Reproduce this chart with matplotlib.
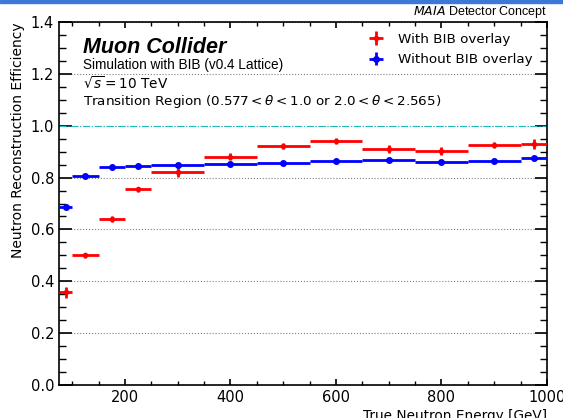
import numpy as np
import matplotlib
matplotlib.use("Agg")
import matplotlib.pyplot as plt
from matplotlib.ticker import MultipleLocator

# bin edges in true neutron energy [GeV]
bin_edges = [75, 100, 150, 200, 250, 350, 450, 550, 650, 750, 850, 950, 1000]

# efficiency with BIB overlay
eff_bib = [0.357, 0.501, 0.639, 0.755, 0.820, 0.881, 0.922, 0.941, 0.910, 0.903, 0.926, 0.930]
err_bib = [0.020, 0.010, 0.012, 0.010, 0.018, 0.015, 0.012, 0.012, 0.014, 0.015, 0.012, 0.020]

# efficiency without BIB overlay
eff_nobib = [0.688, 0.807, 0.842, 0.845, 0.849, 0.852, 0.855, 0.865, 0.868, 0.860, 0.863, 0.876]
err_nobib = [0.005, 0.004, 0.004, 0.004, 0.004, 0.004, 0.004, 0.004, 0.004, 0.004, 0.004, 0.004]

edges = np.array(bin_edges)
centers = (edges[:-1] + edges[1:]) / 2
half_w = (edges[1:] - edges[:-1]) / 2

fig = plt.figure(figsize=(5.63, 4.18), dpi=100)
# blue header strip at the very top
fig.patches.append(plt.Rectangle((0, 0.993), 1, 0.007, transform=fig.transFigure,
                                 color="#3b78d8", zorder=10))

ax = fig.add_axes([0.1048, 0.0789, 0.8668, 0.8684])

ax.errorbar(centers, eff_bib, xerr=half_w, yerr=err_bib, fmt="o", color="red",
            markersize=3, elinewidth=2, capsize=0, label="With BIB overlay", zorder=3)
ax.errorbar(centers, eff_nobib, xerr=half_w, yerr=err_nobib, fmt="o", color="blue",
            markersize=4, elinewidth=2, capsize=0, label="Without BIB overlay", zorder=3)

ax.set_xlim(75, 1000)
ax.set_ylim(0, 1.4)
ax.xaxis.set_major_locator(MultipleLocator(200))
ax.xaxis.set_minor_locator(MultipleLocator(50))
ax.yaxis.set_major_locator(MultipleLocator(0.2))
ax.yaxis.set_minor_locator(MultipleLocator(0.05))
ax.yaxis.set_major_formatter(matplotlib.ticker.FormatStrFormatter("%.1f"))

ax.tick_params(axis="both", which="both", direction="in", top=True, right=True, labelsize=10.5)
ax.tick_params(axis="y", which="major", length=9, width=1.2)
ax.tick_params(axis="y", which="minor", length=5, width=1)
ax.tick_params(axis="x", which="major", length=4, width=1.2)
ax.tick_params(axis="x", which="minor", length=3, width=1)
for s in ax.spines.values():
    s.set_linewidth(1.2)

ax.yaxis.grid(True, which="major", linestyle=":", color="grey", linewidth=0.8)
ax.axhline(1.0, color="#20b8b8", linestyle="-.", linewidth=0.8, zorder=2)

ax.set_xlabel("True Neutron Energy [GeV]", fontsize=9.8, loc="right", labelpad=3)
ax.set_ylabel("Neutron Reconstruction Efficiency", fontsize=10, loc="top")

ax.text(0.05, 0.93, "Muon Collider", transform=ax.transAxes, fontsize=15.5,
        fontweight="bold", fontstyle="italic", family="Liberation Sans", va="center")
ax.text(0.05, 0.882, "Simulation with BIB (v0.4 Lattice)", transform=ax.transAxes,
        fontsize=9.8, family="Liberation Sans", va="center")
ax.text(0.05, 0.83, r"$\sqrt{s} = 10$ TeV", transform=ax.transAxes, fontsize=9.8, va="center")
ax.text(0.05, 0.782, r"Transition Region ($0.577 < \theta < 1.0$ or $2.0 < \theta < 2.565$)",
        transform=ax.transAxes, fontsize=9.7, va="center")

ax.text(1.0, 1.005, r"$\mathit{MAIA}$ Detector Concept", transform=ax.transAxes,
        fontsize=9, family="Liberation Sans", ha="right", va="bottom")

ax.legend(loc="upper right", fontsize=9.7, frameon=False, handlelength=1.2,
          handletextpad=1.0, labelspacing=0.55,
          bbox_to_anchor=(0.992, 1.0), borderaxespad=0.4)

fig.savefig("out.png", dpi=100)
